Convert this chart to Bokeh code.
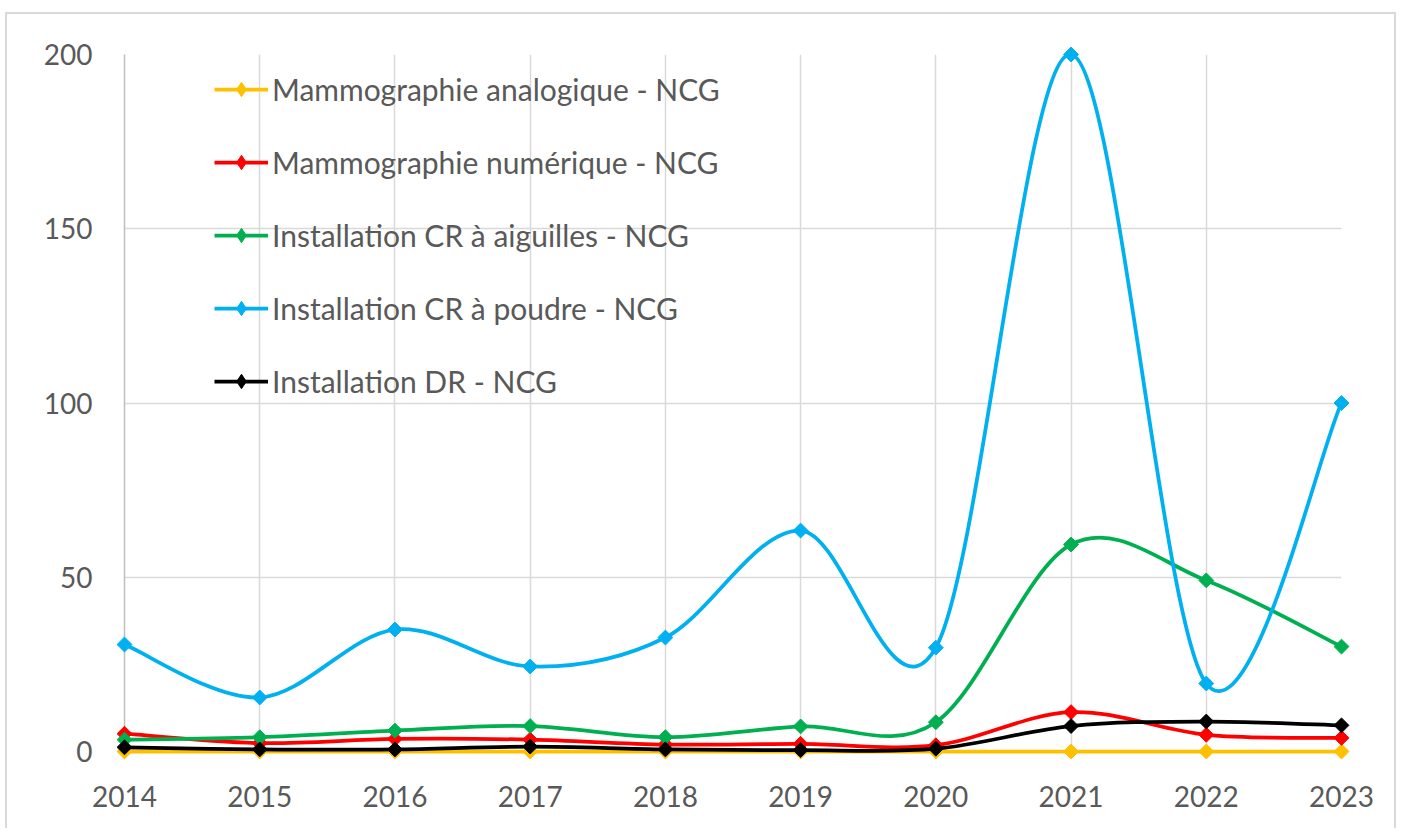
import numpy as np
from bokeh.plotting import figure
from bokeh.models import ColumnDataSource, Range1d, FixedTicker, Legend, LegendItem
from bokeh.embed import file_html
from bokeh.resources import INLINE

years = [2014, 2015, 2016, 2017, 2018, 2019, 2020, 2021, 2022, 2023]
analogique = [0, 0, 0, 0, 0, 0, 0, 0, 0, 0]
numerique = [5.1, 2.4, 3.6, 3.4, 2.0, 2.2, 1.8, 11.3, 4.8, 3.9]
aiguilles = [3.4, 4.1, 6.0, 7.3, 4.1, 7.2, 8.4, 59.4, 49.1, 30.1]
poudre = [30.7, 15.5, 35.0, 24.4, 32.7, 63.4, 29.8, 200.0, 19.5, 100.0]
dr = [1.2, 0.6, 0.6, 1.4, 0.6, 0.4, 0.8, 7.3, 8.6, 7.5]

labels = ["Mammographie analogique - NCG", "Mammographie numérique - NCG",
          "Installation CR à aiguilles - NCG", "Installation CR à poudre - NCG",
          "Installation DR - NCG"]
series = [analogique, numerique, aiguilles, poudre, dr]
colors = ["#FFC000", "#FF0000", "#00B050", "#00B0F0", "#000000"]

FONT = "Lato"
TXT = "#595959"


def bezier_source(xs, ys):
    x = np.asarray(xs, float)
    y = np.asarray(ys, float)
    xp = np.concatenate([[x[0]], x, [x[-1]]])
    yp = np.concatenate([[y[0]], y, [y[-1]]])
    n = len(x)
    d = dict(x0=[], y0=[], x1=[], y1=[], cx0=[], cy0=[], cx1=[], cy1=[])
    for i in range(n - 1):
        j = i + 1  # index in padded arrays
        d["x0"].append(x[i]); d["y0"].append(y[i])
        d["x1"].append(x[i + 1]); d["y1"].append(y[i + 1])
        d["cx0"].append(xp[j] + (xp[j + 1] - xp[j - 1]) / 6)
        d["cy0"].append(yp[j] + (yp[j + 1] - yp[j - 1]) / 6)
        d["cx1"].append(xp[j + 1] - (xp[j + 2] - xp[j]) / 6)
        d["cy1"].append(yp[j + 1] - (yp[j + 2] - yp[j]) / 6)
    return ColumnDataSource(d)


p = figure(width=1391, height=816, output_backend="svg", toolbar_location=None,
           x_range=Range1d(2014, 2023), y_range=Range1d(0, 200),
           min_border_left=117, min_border_right=57, min_border_top=40, min_border_bottom=79)
p.styles = {"margin-left": "5px", "margin-top": "12px",
            "border-top": "2px solid #d9d9d9", "border-left": "2px solid #d9d9d9",
            "border-right": "2px solid #d9d9d9"}
p.outline_line_color = None
p.background_fill_color = "white"
p.border_fill_color = "white"

p.xaxis.ticker = FixedTicker(ticks=years)
p.yaxis.ticker = FixedTicker(ticks=[0, 50, 100, 150, 200])
p.xgrid.ticker = FixedTicker(ticks=years)
for ax in (p.xaxis, p.yaxis):
    ax.major_tick_line_color = None
    ax.minor_tick_line_color = None
    ax.major_tick_out = 0
    ax.major_tick_in = 0
    ax.axis_line_color = "#bfbfbf"
    ax.axis_line_width = 1.5
    ax.major_label_text_font = FONT
    ax.major_label_text_font_size = "28px"
    ax.major_label_text_color = TXT
p.xaxis.major_label_standoff = 34
p.yaxis.major_label_standoff = 32
p.xaxis.major_label_overrides = {y: str(y) for y in years}
p.grid.grid_line_color = "#d9d9d9"
p.grid.grid_line_width = 1.5

items = []
for lab, vals, col in zip(labels, series, colors):
    src = bezier_source(years, vals)
    p.bezier(x0="x0", y0="y0", x1="x1", y1="y1", cx0="cx0", cy0="cy0", cx1="cx1", cy1="cy1",
             source=src, line_color=col, line_width=3.75, level="overlay")
    p.scatter(x=years, y=vals, marker="square", angle=np.pi / 4, size=10.5,
              fill_color=col, line_color=col, level="overlay")
    leg_line = p.line(x=[np.nan], y=[np.nan], line_color=col, line_width=3.75)
    leg_mark = p.scatter(x=[np.nan], y=[np.nan], marker="diamond", size=14,
                         fill_color=col, line_color=col)
    items.append(LegendItem(label=lab, renderers=[leg_line, leg_mark]))

legend = Legend(items=items, location=(90, 352), orientation="vertical",
                background_fill_alpha=0, border_line_color=None,
                label_text_font=FONT, label_text_font_size="30px", label_text_color=TXT,
                glyph_width=54, glyph_height=36, label_height=36, spacing=37,
                padding=0, margin=0, label_standoff=4)
p.add_layout(legend)

open("out.html", "w").write(file_html(p, INLINE))
